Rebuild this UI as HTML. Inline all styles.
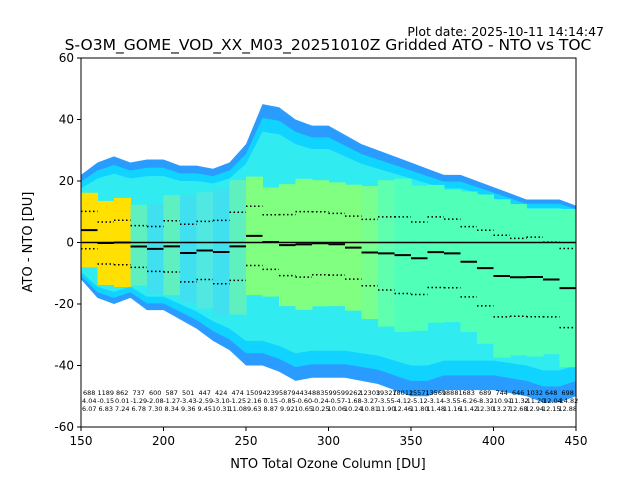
<!DOCTYPE html>
<html><head><meta charset="utf-8"><style>
body{margin:0;background:#fff;font-family:"Liberation Sans","DejaVu Sans",sans-serif}
svg text{font-family:"DejaVu Sans","Liberation Sans",sans-serif}
</style></head><body>
<svg id="c" width="640" height="480" viewBox="0 0 640 480"></svg>
<script>
const binStarts=[150,160,170,180,190,200,210,220,230,240,250,260,270,280,290,300,310,320,330,340,350,360,370,380,390,400,410,420,430,440];
const counts=[688,1189,862,737,600,587,501,447,424,474,1509,4239,5879,4434,8835,9959,9262,12303,19327,18012,15571,13569,18881,683,689,744,646,1032,648,698];
const means=[4.04,-0.15,0.01,-1.29,-2.08,-1.27,-3.43,-2.59,-3.10,-1.25,2.16,0.15,-0.85,-0.60,-0.24,-0.57,-1.68,-3.27,-3.55,-4.12,-5.12,-3.14,-3.55,-6.26,-8.32,-10.91,-11.32,-11.20,-12.04,-14.82];
const stds=[6.07,6.83,7.24,6.78,7.30,8.34,9.36,9.45,10.31,11.08,9.63,8.87,9.92,10.65,10.25,10.06,10.24,10.81,11.90,12.46,11.80,11.48,11.16,11.42,12.30,13.27,12.68,12.94,12.15,12.88];
const envX=[150,160,170,180,190,200,210,220,230,240,250,260,270,280,290,300,310,320,330,340,350,360,370,380,390,400,410,420,430,440,450];
const envHi=[22,26,28,26,27,27,25,25,24,26,32,45,44,40,38,38,35,32,30,28,26,24,22,22,20,18,16,14,14,14,12];
const envLo=[-12,-18,-20,-18,-22,-22,-25,-28,-32,-35,-40,-40,-42,-45,-44,-44,-44,-45,-46,-48,-50,-50,-48,-48,-48,-48,-49,-50,-52,-52,-50];
const coreColors=["#ffe000","#ffe000","#ffe000","#60f0c0","#40e0f0","#60f0c0","#40e0f0","#50e8e0","#40e0f0","#60f0c0","#80ff80","#80ff80","#80ff80","#80ff80","#80ff80","#80ff80","#80ff80","#78ff90","#60ffb0","#50ffb8","#50ffb8","#50ffb8","#50ffb8","#50ffb8","#50ffb8","#50ffb8","#50ffb8","#50ffb8","#50ffb8","#50ffb8"];
const xTicks=[150,200,250,300,350,400,450];
const yTicks=[-60,-40,-20,0,20,40,60];
const L=81,R=576,T=58,B=427;
const xs=v=>L+(v-150)/300*(R-L);
const ys=v=>B-(v+60)/120*(B-T);
const svg=document.getElementById('c');const NS='http://www.w3.org/2000/svg';
function mk(t,a,p){const e=document.createElementNS(NS,t);for(const k in a)e.setAttribute(k,a[k]);(p||svg).appendChild(e);return e;}
const clip=mk('clipPath',{id:'pc'});mk('rect',{x:L,y:T,width:R-L,height:B-T},clip);
const g=mk('g',{'clip-path':'url(#pc)'});


function band(sc,col,name){
  let pts=envX.map((x,i)=>xs(x)+','+ys(envHi[i]*sc)).concat(envX.slice().reverse().map((x,j)=>{const i=envX.length-1-j;return xs(x)+','+ys(envLo[i]*sc);}));
  const p=mk('polygon',{points:pts.join(' '),fill:col},g);
  
  
}
band(1,'#2a9cff','outer-band');
band(0.9,'#10d4ff','cyan-band');
band(0.8,'#30ecf0','inner-band');
binStarts.forEach((b,i)=>{
  const hi=Math.min(means[i]+2.0*stds[i],envHi[i]*0.78),lo=Math.max(means[i]-2.0*stds[i],envLo[i]*0.78);
  const r=mk('rect',{x:xs(b),y:ys(hi),width:xs(b+10)-xs(b)+0.5,height:ys(lo)-ys(hi),fill:coreColors[i]},g);
  
  
});
const z=mk('line',{x1:L,x2:R,y1:ys(0),y2:ys(0),stroke:'#000','stroke-width':1.5});


binStarts.forEach((b,i)=>{
  const m=mk('line',{x1:xs(b),x2:xs(b+10),y1:ys(means[i]),y2:ys(means[i]),stroke:'#000','stroke-width':2});
  
  
  [1,-1].forEach(s=>{
    const d=mk('line',{x1:xs(b),x2:xs(b+10),y1:ys(means[i]+s*stds[i]),y2:ys(means[i]+s*stds[i]),stroke:'#000','stroke-width':1.5,'stroke-dasharray':'1.5,2.5'});
    
    
  });
  const cx=xs(b+5);
  [[counts[i],395],[means[i].toFixed(2),403],[stds[i].toFixed(2),411]].forEach(([v,y])=>{
    const t=mk('text',{x:cx,y:y,'font-size':6.5,'text-anchor':'middle',fill:'#000'});t.textContent=v;
    
    
  });
});
const fr=mk('rect',{x:L,y:T,width:R-L,height:B-T,fill:'none',stroke:'#000','stroke-width':1});


xTicks.forEach(v=>{
  mk('line',{x1:xs(v),x2:xs(v),y1:B,y2:B+4,stroke:'#000'});
  const t=mk('text',{x:xs(v),y:B+18,'font-size':12,'text-anchor':'middle'});t.textContent=v;
  
  
});
yTicks.forEach(v=>{
  mk('line',{x1:L-4,x2:L,y1:ys(v),y2:ys(v),stroke:'#000'});
  const t=mk('text',{x:L-7,y:ys(v)+4,'font-size':12,'text-anchor':'end'});t.textContent=v;
  
  
});
function lab(txt,a,name){const t=mk('text',a);t.textContent=txt;return t;}
lab('NTO Total Ozone Column [DU]',{x:328,y:468,'font-size':13,'text-anchor':'middle'},'x-axis-title');
lab('ATO - NTO [DU]',{x:32,y:242,'font-size':13,'text-anchor':'middle',transform:'rotate(-90 32 242)'},'y-axis-title');
lab('S-O3M_GOME_VOD_XX_M03_20251010Z Gridded ATO - NTO vs TOC',{x:328,y:50,'font-size':15.5,'text-anchor':'middle'},'chart-title');
lab('Plot date: 2025-10-11 14:14:47',{x:604,y:36,'font-size':12.5,'text-anchor':'end'},'plot-date');
</script>
</body></html>
